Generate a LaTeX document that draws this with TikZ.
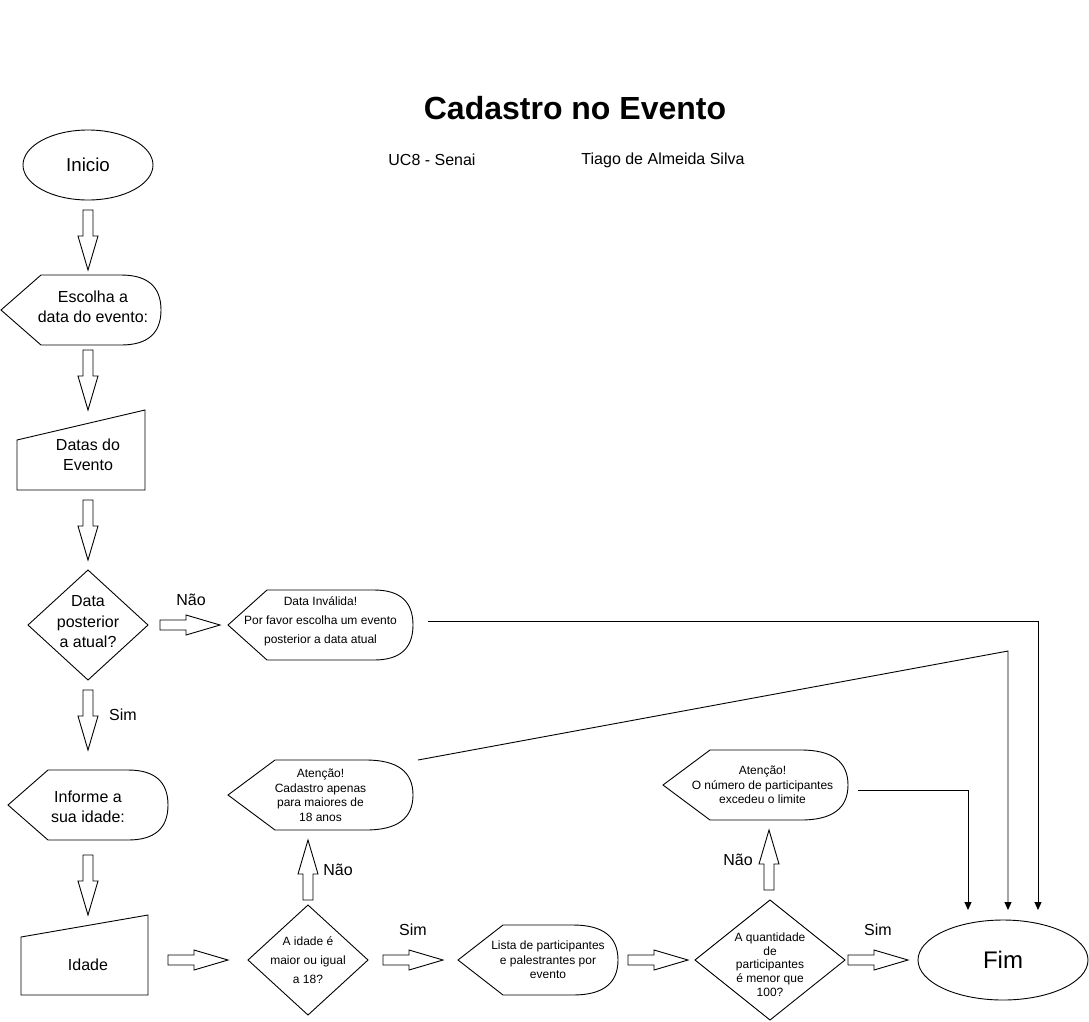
\documentclass[tikz,border=0pt]{standalone}
\usepackage{fontspec}
\setmainfont{Liberation Sans}
\usetikzlibrary{shapes.geometric,calc,arrows.meta}

\newcommand\dispout[2]{\draw (#1.west) -- ($(#1.north west)+(#2,0)$) -- ($(#1.north east)+(-#2,0)$)
  .. controls ($(#1.north east)+(-#2/3,0)$) and ($(#1.north east)!0.3333!(#1.east)$) .. (#1.east)
  .. controls ($(#1.south east)!0.3333!(#1.east)$) and ($(#1.south east)+(-#2/3,0)$) .. ($(#1.south east)+(-#2,0)$)
  -- ($(#1.south west)+(#2,0)$) -- cycle;}
\newcommand\manout[2]{\draw (#1.south west) -- ($(#1.north west)+(0,#2)$) -- (#1.north east) -- (#1.south east) -- cycle;}

\tikzset{
  base/.style={draw=black, inner sep=0pt, outer sep=0pt},
  term/.style={base, ellipse},
  dec/.style={base, diamond},
  shapebox/.style={inner sep=0pt, outer sep=0pt},
  tA/.style={font=\fontsize{16}{20.5}\selectfont, align=center},
  tB/.style={font=\fontsize{12}{14.5}\selectfont, align=center},
  tC/.style={font=\fontsize{12}{19}\selectfont, align=center},
  lbl/.style={font=\fontsize{16}{19}\selectfont},
  conn/.style={-{Triangle[length=8pt,width=7pt]}},
  barrow/.pic={\draw[fill=white] (0,-5) -- (26,-5) -- (26,-10) -- (60,0) -- (26,10) -- (26,5) -- (0,5) -- cycle;}
}

\begin{document}
\begin{tikzpicture}[x=1pt, y=-1pt, line width=0.9pt, line join=miter]
\useasboundingbox[fill=white] (0,0) rectangle (1089,1021);

% title
\node[font=\bfseries\fontsize{32}{38}\selectfont] (title) at (575,108) {Cadastro no Evento};
\node[lbl] (uc) at (432,160) {UC8 - Senai};
\node[lbl] (autor) at (663,160) {Tiago de Almeida Silva};

% nodes
\node[term, minimum width=130pt, minimum height=70pt, font=\fontsize{18.7}{22}\selectfont] (inicio) at (88,165) {Inicio};

\node[shapebox, minimum width=160pt, minimum height=70pt,
  label={[tA, xshift=12pt, yshift=3pt]center:{Escolha a\\data do evento:}}] (escolha) at (81,310) {};
\dispout{escolha}{40}

\node[shapebox, minimum width=128pt, minimum height=80pt,
  label={[tA, xshift=7pt, yshift=-5pt]center:{Datas do\\Evento}}] (datas) at (81,450) {};
\manout{datas}{30}

\node[dec, minimum width=120pt, minimum height=110pt,
  label={[tA, yshift=3pt]center:{Data\\posterior\\a atual?}}] (d1) at (88,625) {};

\node[shapebox, minimum width=185pt, minimum height=70pt,
  label={[tC, yshift=4pt]center:{Data Inválida!\\Por favor escolha um evento\\posterior a data atual}}] (inv) at (320.5,625) {};
\dispout{inv}{39}

\node[shapebox, minimum width=160pt, minimum height=70pt,
  label={[tA, yshift=-2pt]center:{Informe a\\sua idade:}}] (informe) at (88,805) {};
\dispout{informe}{40}

\node[shapebox, minimum width=127pt, minimum height=80pt,
  label={[tA, xshift=3.5pt, yshift=-10pt]center:{Idade}}] (idade) at (84.5,955) {};
\manout{idade}{22}

\node[dec, minimum width=120pt, minimum height=110pt,
  label={[tC]center:{A idade é\\maior ou igual\\a 18?}}] (d2) at (308,960) {};

\node[shapebox, minimum width=185pt, minimum height=70pt,
  label={[tB]center:{Atenção!\\Cadastro apenas\\para maiores de\\18 anos}}] (at1) at (320.5,795) {};
\dispout{at1}{47}

\node[shapebox, minimum width=160pt, minimum height=70pt,
  label={[tB, xshift=10pt]center:{Lista de participantes\\e palestrantes por\\evento}}] (lista) at (538,960) {};
\dispout{lista}{45}

\node[dec, minimum width=150pt, minimum height=120pt,
  label={[font=\fontsize{12}{13.75}\selectfont, align=center, yshift=-4.5pt]center:{A quantidade\\de\\participantes\\é menor que\\100?}}] (d3) at (770,960) {};

\node[shapebox, minimum width=185pt, minimum height=70pt,
  label={[tB, xshift=7pt]center:{Atenção!\\O número de participantes\\excedeu o limite}}] (at2) at (755.5,785) {};
\dispout{at2}{47}

\node[term, minimum width=170pt, minimum height=80pt, font=\fontsize{24}{28}\selectfont] (fim) at (1003,960) {Fim};

% block arrows
\pic[rotate=-90] at (88,210) {barrow};
\pic[rotate=-90] at (88,350) {barrow};
\pic[rotate=-90] at (88,500) {barrow};
\pic[rotate=-90] at (88,690) {barrow};
\pic[rotate=-90] at (88,855) {barrow};
\pic at (160,625) {barrow};
\pic at (168,960) {barrow};
\pic[rotate=90] at (308,900) {barrow};
\pic at (383,960) {barrow};
\pic at (628,960) {barrow};
\pic[rotate=90] at (769,890) {barrow};
\pic at (848,960) {barrow};

% branch labels
\node[lbl] (n1) at (191,600) {Não};
\node[lbl] (s1) at (123,715) {Sim};
\node[lbl] (n2) at (338,870) {Não};
\node[lbl] (s2) at (413,930) {Sim};
\node[lbl] (n3) at (738,860) {Não};
\node[lbl] (s3) at (878,930) {Sim};

% connectors to Fim
\draw[conn] ([xshift=15pt, yshift=4pt]inv.east) -| ([xshift=35pt, yshift=10pt]fim.north);
\draw[conn] ([xshift=5pt]at1.north east) -- (1008,651) -- ([xshift=5pt, yshift=10pt]fim.north);
\draw[conn] ([xshift=10pt, yshift=-5pt]at2.east) -| ([xshift=-35pt, yshift=10pt]fim.north);
\end{tikzpicture}
\end{document}
